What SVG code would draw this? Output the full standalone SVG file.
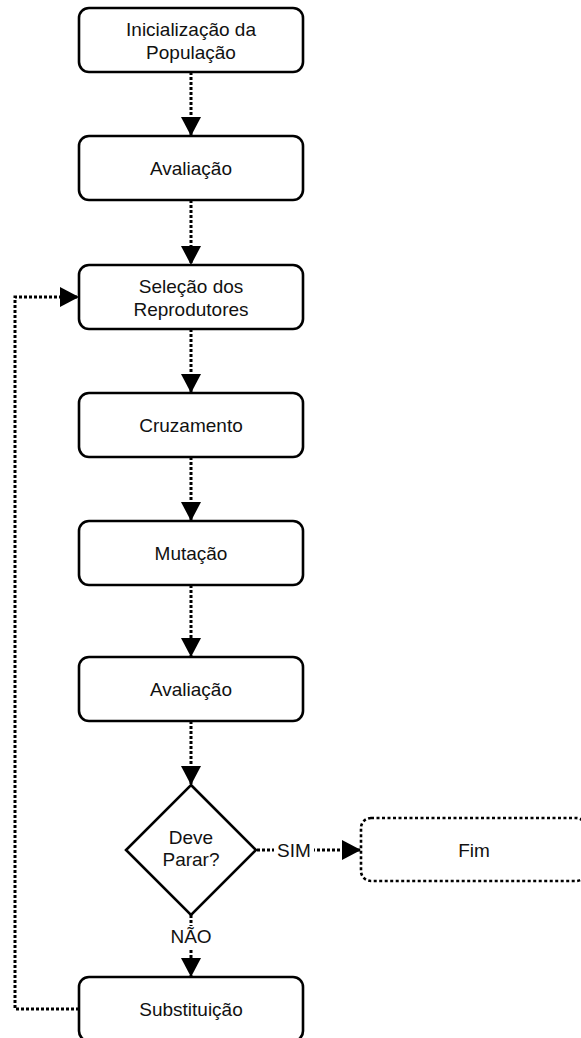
<svg xmlns="http://www.w3.org/2000/svg" width="581" height="1038" viewBox="0 0 581 1038">
<style>
.box{fill:#fff;stroke:#000;stroke-width:2.6}
.dotbox{fill:#fff;stroke:#000;stroke-width:2.6;stroke-dasharray:3 2.5}
.t{font-family:"Liberation Sans",Arial,sans-serif;font-size:19px;fill:#111;text-anchor:middle}
.c{fill:none;stroke:#000;stroke-width:3;stroke-dasharray:3 2}
.lbl{fill:#fff}
</style>
<defs>
<marker id="ah" markerUnits="userSpaceOnUse" markerWidth="19" markerHeight="20" refX="19" refY="10" orient="auto">
<path d="M0,0 L19,10 L0,20 z" fill="#000"/>
</marker>
</defs>
<g id="connectors">
<path class="c" d="M191,72 V136" marker-end="url(#ah)"/>
<path class="c" d="M191,200 V265" marker-end="url(#ah)"/>
<path class="c" d="M191,329 V393" marker-end="url(#ah)"/>
<path class="c" d="M191,457 V521" marker-end="url(#ah)"/>
<path class="c" d="M191,585 V657" marker-end="url(#ah)"/>
<path class="c" d="M191,721 V785" marker-end="url(#ah)"/>
<path class="c" d="M257,850 H361" marker-end="url(#ah)"/>
<path class="c" d="M191,915 V977" marker-end="url(#ah)"/>
<path class="c" d="M79,1009 H15 V297 H79" marker-end="url(#ah)"/>
<rect class="lbl" x="274" y="838" width="40" height="24"/>
<text class="t" x="294" y="857">SIM</text>
<rect class="lbl" x="170" y="926" width="42" height="22"/>
<text class="t" x="191" y="943">NÃO</text>
</g>
<g id="n1"><rect class="box" x="79" y="8" width="224" height="64" rx="10"/><text class="t" x="191" y="36">Inicialização da</text><text class="t" x="191" y="59">População</text></g>
<g id="n2"><rect class="box" x="79" y="136" width="224" height="64" rx="10"/><text class="t" x="191" y="175">Avaliação</text></g>
<g id="n3"><rect class="box" x="79" y="265" width="224" height="64" rx="10"/><text class="t" x="191" y="293">Seleção dos</text><text class="t" x="191" y="316">Reprodutores</text></g>
<g id="n4"><rect class="box" x="79" y="393" width="224" height="64" rx="10"/><text class="t" x="191" y="432">Cruzamento</text></g>
<g id="n5"><rect class="box" x="79" y="521" width="224" height="64" rx="10"/><text class="t" x="191" y="560">Mutação</text></g>
<g id="n6"><rect class="box" x="79" y="657" width="224" height="64" rx="10"/><text class="t" x="191" y="696">Avaliação</text></g>
<g id="n7"><path class="box" d="M191,785 L256,850 L191,915 L126,850 Z"/><text class="t" x="191" y="844">Deve</text><text class="t" x="191" y="866">Parar?</text></g>
<g id="n8"><rect class="dotbox" x="361" y="818" width="225" height="63" rx="10"/><text class="t" x="474" y="857">Fim</text></g>
<g id="n9"><rect class="box" x="79" y="977" width="224" height="64" rx="10"/><text class="t" x="191" y="1016">Substituição</text></g>
</svg>
